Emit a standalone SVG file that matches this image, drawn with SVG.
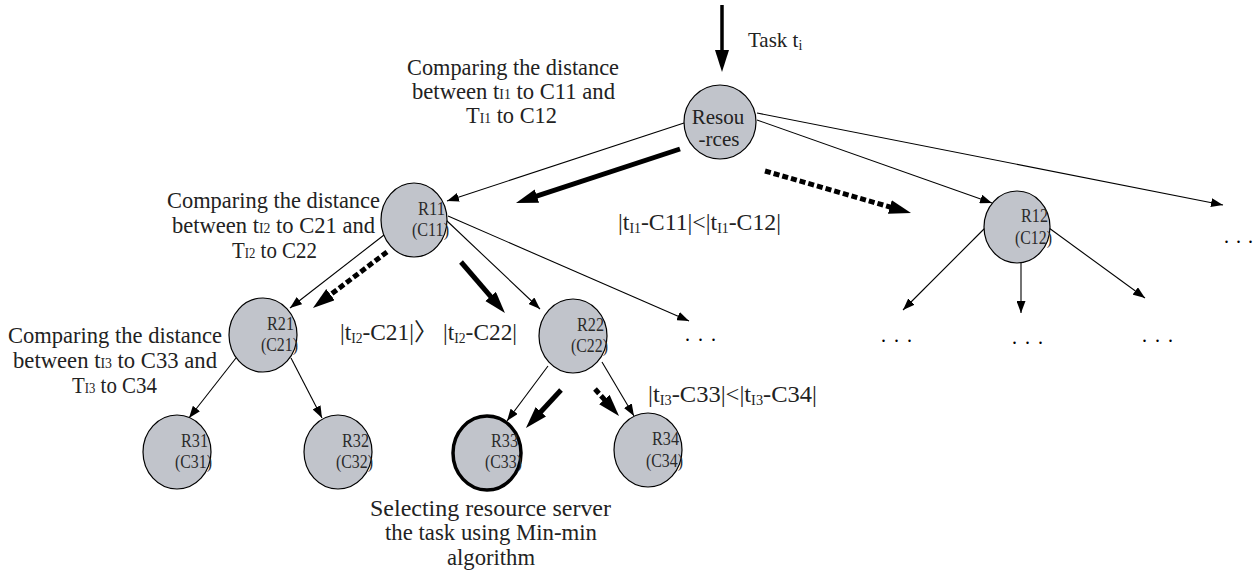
<svg xmlns="http://www.w3.org/2000/svg" width="1257" height="576" viewBox="0 0 1257 576">
<style>
.node{fill:#c1c4cb;stroke:#000;stroke-width:1.2}
.sel{stroke-width:3.5}
.lbl{font-family:"Liberation Serif","Noto Sans CJK SC",serif;font-size:18px;fill:#2a2a2a;text-anchor:end}
.txt{font-family:"Liberation Serif","Noto Sans CJK SC",serif;font-size:23px;fill:#222}
.big{font-size:24px}
.sub{font-size:14px}
.dots{font-family:"Liberation Serif",serif;font-size:20px;fill:#000}
.thin{stroke:#000;stroke-width:1.1;fill:none;marker-end:url(#ah)}
.thick{stroke:#000;stroke-width:5;fill:none;marker-end:url(#ahb)}
.dash{stroke-dasharray:6 3}
</style>
<defs>
<marker id="ah" markerUnits="userSpaceOnUse" markerWidth="13" markerHeight="9" refX="12" refY="4.5" orient="auto">
<path d="M0,0 L12,4.5 L0,9 z" fill="#000"/>
</marker>
<marker id="ahb" markerUnits="userSpaceOnUse" markerWidth="23" markerHeight="15" refX="2" refY="7" orient="auto">
<path d="M0,0 L22,7 L0,14 z" fill="#000"/>
</marker>
</defs>

<g id="connectors">
<line class="thin" x1="684" y1="123" x2="447" y2="201"/>
<line class="thin" x1="757" y1="120" x2="992" y2="203"/>
<line class="thin" x1="757" y1="113" x2="1223" y2="205"/>
<line class="thin" x1="384" y1="235" x2="290" y2="308"/>
<line class="thin" x1="446" y1="220" x2="540" y2="309"/>
<line class="thin" x1="448" y1="216" x2="689" y2="321"/>
<line class="thin" x1="236" y1="358" x2="189" y2="418"/>
<line class="thin" x1="291" y1="358" x2="322" y2="418"/>
<line class="thin" x1="548" y1="366" x2="507" y2="421"/>
<line class="thin" x1="602" y1="362" x2="634" y2="416"/>
<line class="thin" x1="985" y1="228" x2="903" y2="310"/>
<line class="thin" x1="1021" y1="263" x2="1021" y2="313"/>
<line class="thin" x1="1049" y1="228" x2="1145" y2="298"/>
<line class="thick" style="stroke-width:3.5" x1="722" y1="5" x2="722" y2="52"/>
<line class="thick" x1="680" y1="149" x2="535" y2="196.7"/>
<line class="thick dash" x1="765" y1="171" x2="891.8" y2="207.5"/>
<line class="thick dash" x1="387" y1="252" x2="328.9" y2="295.9"/>
<line class="thick" x1="461" y1="262" x2="491.9" y2="297.9"/>
<line class="thick" x1="561" y1="390" x2="539.5" y2="413.3"/>
<line class="thick dash" x1="595" y1="389" x2="605.7" y2="401"/>
</g>

<g id="node-resources">
<ellipse class="node" cx="720" cy="122" rx="36" ry="37"/>
<text class="txt" style="font-size:21px" x="718" y="124" text-anchor="middle">Resou</text>
<text class="txt" style="font-size:21px" x="719" y="146" text-anchor="middle">-rces</text>
</g>
<g id="node-r11">
<ellipse class="node" cx="414" cy="220" rx="33" ry="37"/>
<text class="lbl" x="445" y="215" textLength="27" lengthAdjust="spacingAndGlyphs">R11</text>
<text class="lbl" x="449" y="236" textLength="37" lengthAdjust="spacingAndGlyphs">(C11)</text>
</g>
<g id="node-r12">
<ellipse class="node" cx="1017" cy="227" rx="33" ry="36"/>
<text class="lbl" x="1048" y="222" textLength="27" lengthAdjust="spacingAndGlyphs">R12</text>
<text class="lbl" x="1052" y="244" textLength="37" lengthAdjust="spacingAndGlyphs">(C12)</text>
</g>
<g id="node-r21">
<ellipse class="node" cx="263" cy="335" rx="34" ry="37"/>
<text class="lbl" x="294" y="330" textLength="27" lengthAdjust="spacingAndGlyphs">R21</text>
<text class="lbl" x="298" y="351" textLength="37" lengthAdjust="spacingAndGlyphs">(C21)</text>
</g>
<g id="node-r22">
<ellipse class="node" cx="573" cy="336" rx="34" ry="37"/>
<text class="lbl" x="604" y="331" textLength="27" lengthAdjust="spacingAndGlyphs">R22</text>
<text class="lbl" x="608" y="352" textLength="37" lengthAdjust="spacingAndGlyphs">(C22)</text>
</g>
<g id="node-r31">
<ellipse class="node" cx="177" cy="452" rx="34" ry="37"/>
<text class="lbl" x="208" y="447" textLength="27" lengthAdjust="spacingAndGlyphs">R31</text>
<text class="lbl" x="212" y="468" textLength="37" lengthAdjust="spacingAndGlyphs">(C31)</text>
</g>
<g id="node-r32">
<ellipse class="node" cx="338" cy="452" rx="34" ry="37"/>
<text class="lbl" x="369" y="447" textLength="27" lengthAdjust="spacingAndGlyphs">R32</text>
<text class="lbl" x="373" y="468" textLength="37" lengthAdjust="spacingAndGlyphs">(C32)</text>
</g>
<g id="node-r33">
<ellipse class="node sel" cx="487" cy="453" rx="34" ry="37"/>
<text class="lbl" x="518" y="447" textLength="27" lengthAdjust="spacingAndGlyphs">R33</text>
<text class="lbl" x="522" y="468" textLength="37" lengthAdjust="spacingAndGlyphs">(C33)</text>
</g>
<g id="node-r34">
<ellipse class="node" cx="648" cy="450" rx="34" ry="37"/>
<text class="lbl" x="679" y="445" textLength="27" lengthAdjust="spacingAndGlyphs">R34</text>
<text class="lbl" x="683" y="467" textLength="37" lengthAdjust="spacingAndGlyphs">(C34)</text>
</g>

<g id="dots">
<text class="dots" x="685 698 711" y="341">...</text>
<text class="dots" x="881 894 907" y="342">...</text>
<text class="dots" x="1012 1025 1038" y="344">...</text>
<text class="dots" x="1142 1155 1168" y="342">...</text>
<text class="dots" x="1224 1236 1248" y="243">...</text>
</g>

<g id="labels">
<text class="txt" style="font-size:21px" x="748" y="47">Task t<tspan class="sub" dy="3">i</tspan></text>

<text class="txt" x="407" y="75" textLength="212" lengthAdjust="spacingAndGlyphs">Comparing the distance</text>
<text class="txt" x="412" y="99" textLength="203" lengthAdjust="spacingAndGlyphs">between t<tspan class="sub">I1</tspan> to C11 and</text>
<text class="txt" x="466" y="123" textLength="91" lengthAdjust="spacingAndGlyphs">T<tspan class="sub">I1</tspan> to C12</text>

<text class="txt" x="167" y="208" textLength="213" lengthAdjust="spacingAndGlyphs">Comparing the distance</text>
<text class="txt" x="172" y="233" textLength="203" lengthAdjust="spacingAndGlyphs">between t<tspan class="sub">I2</tspan> to C21 and</text>
<text class="txt" x="232" y="258" textLength="85" lengthAdjust="spacingAndGlyphs">T<tspan class="sub">I2</tspan> to C22</text>

<text class="txt" x="8" y="343" textLength="214" lengthAdjust="spacingAndGlyphs">Comparing the distance</text>
<text class="txt" x="13" y="368" textLength="204" lengthAdjust="spacingAndGlyphs">between t<tspan class="sub">I3</tspan> to C33 and</text>
<text class="txt" x="72" y="393" textLength="85" lengthAdjust="spacingAndGlyphs">T<tspan class="sub">I3</tspan> to C34</text>

<text class="txt" x="370" y="516" textLength="241" lengthAdjust="spacingAndGlyphs">Selecting resource server</text>
<text class="txt" x="385" y="540" textLength="212" lengthAdjust="spacingAndGlyphs">the task using Min-min</text>
<text class="txt" x="447" y="565" textLength="88" lengthAdjust="spacingAndGlyphs">algorithm</text>

<text class="txt big" x="618" y="230" textLength="163" lengthAdjust="spacingAndGlyphs">|t<tspan class="sub" dy="3">I1</tspan><tspan dy="-3">-C11|&lt;|t</tspan><tspan class="sub" dy="3">I1</tspan><tspan dy="-3">-C12|</tspan></text>
<text class="txt big" x="340" y="340" textLength="177" lengthAdjust="spacingAndGlyphs">|t<tspan class="sub" dy="3">I2</tspan><tspan dy="-3">-C21|〉 |t</tspan><tspan class="sub" dy="3">I2</tspan><tspan dy="-3">-C22|</tspan></text>
<text class="txt big" x="648" y="402" textLength="169" lengthAdjust="spacingAndGlyphs">|t<tspan class="sub" dy="3">I3</tspan><tspan dy="-3">-C33|&lt;|t</tspan><tspan class="sub" dy="3">I3</tspan><tspan dy="-3">-C34|</tspan></text>
</g>
</svg>
